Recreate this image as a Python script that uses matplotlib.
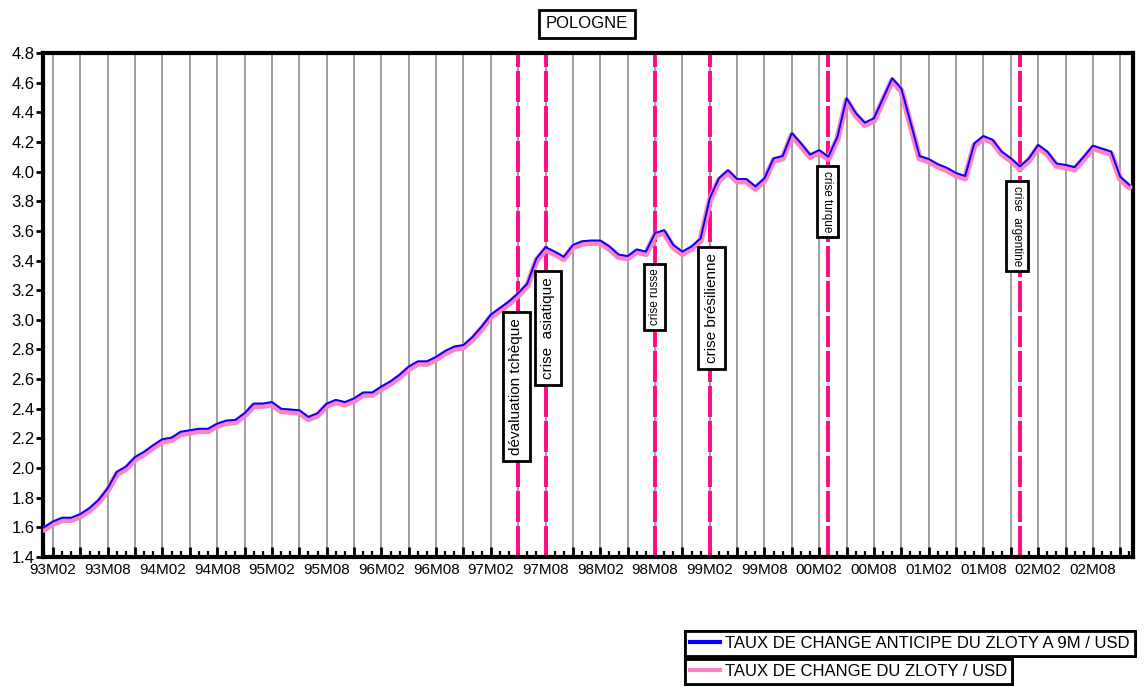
import matplotlib
matplotlib.use("Agg")
import matplotlib.pyplot as plt
from matplotlib.lines import Line2D
from matplotlib.ticker import MultipleLocator, FixedLocator

plt.rcParams['font.family'] = ['Liberation Sans', 'DejaVu Sans']

# Données mensuelles 93M01 .. 02M12
forward_9m = [
    1.60, 1.64, 1.665, 1.665, 1.69, 1.73, 1.785, 1.865, 1.975, 2.01,
    2.075, 2.11, 2.155, 2.195, 2.205, 2.245, 2.255, 2.265, 2.265, 2.30,
    2.32, 2.325, 2.37, 2.435, 2.435, 2.445, 2.40, 2.395, 2.39, 2.345,
    2.37, 2.435, 2.46, 2.445, 2.47, 2.51, 2.51, 2.55, 2.585, 2.63,
    2.685, 2.72, 2.72, 2.75, 2.79, 2.82, 2.83, 2.885, 2.955, 3.035,
    3.08, 3.125, 3.18, 3.245, 3.415, 3.49, 3.46, 3.425, 3.505, 3.53,
    3.535, 3.535, 3.495, 3.44, 3.43, 3.475, 3.46, 3.585, 3.605, 3.505,
    3.46, 3.495, 3.55, 3.82, 3.955, 4.01, 3.95, 3.95, 3.90, 3.955,
    4.09, 4.105, 4.26, 4.19, 4.115, 4.145, 4.10, 4.235, 4.495, 4.395,
    4.33, 4.36, 4.495, 4.63, 4.56, 4.335, 4.105, 4.085, 4.05, 4.025,
    3.99, 3.97, 4.19, 4.24, 4.215, 4.135, 4.09, 4.035, 4.09, 4.18,
    4.135, 4.055, 4.045, 4.03, 4.10, 4.175, 4.155, 4.135, 3.965, 3.91,
]
spot = [
    1.585, 1.625, 1.65, 1.65, 1.675, 1.715, 1.77, 1.85, 1.96, 1.995,
    2.06, 2.095, 2.14, 2.18, 2.19, 2.23, 2.24, 2.25, 2.25, 2.285,
    2.305, 2.31, 2.355, 2.42, 2.42, 2.43, 2.385, 2.38, 2.375, 2.33,
    2.355, 2.42, 2.445, 2.43, 2.455, 2.495, 2.495, 2.535, 2.57, 2.615,
    2.67, 2.705, 2.705, 2.735, 2.775, 2.805, 2.815, 2.87, 2.94, 3.02,
    3.065, 3.11, 3.165, 3.23, 3.40, 3.475, 3.445, 3.41, 3.49, 3.515,
    3.52, 3.52, 3.48, 3.425, 3.415, 3.46, 3.445, 3.57, 3.59, 3.49,
    3.445, 3.48, 3.535, 3.805, 3.94, 3.995, 3.935, 3.935, 3.885, 3.94,
    4.075, 4.09, 4.245, 4.175, 4.10, 4.13, 4.085, 4.22, 4.48, 4.38,
    4.315, 4.345, 4.48, 4.615, 4.545, 4.32, 4.09, 4.07, 4.035, 4.01,
    3.975, 3.955, 4.175, 4.225, 4.20, 4.12, 4.075, 4.02, 4.075, 4.165,
    4.12, 4.04, 4.03, 4.015, 4.085, 4.16, 4.14, 4.12, 3.95, 3.895,
]
months = list(range(len(spot)))

tick_labels = ["93M02", "93M08", "94M02", "94M08", "95M02", "95M08", "96M02",
               "96M08", "97M02", "97M08", "98M02", "98M08", "99M02", "99M08",
               "00M02", "00M08", "01M02", "01M08", "02M02", "02M08"]

# crises : indice du mois, libellé, position du cadre (mois, valeur), rotation, taille
events = [52, 55, 67, 73, 86, 107]
event_labels = ["dévaluation tchèque", "crise  asiatique", "crise russe",
                "crise brésilienne", "crise turque", "crise  argentine"]
label_pos = [(51.8, 2.55), (55.3, 2.945), (66.95, 3.155), (73.2, 3.08),
             (85.9, 3.80), (106.7, 3.635)]
label_rot = [90, 90, 90, 90, 270, 270]
label_size = [11, 11, 8.5, 11, 8.5, 8.5]

BLUE = "#0000FF"
PINK = "#FF80C4"
MAGENTA = "#FF0A84"

fig = plt.figure(figsize=(11.45, 6.87), dpi=100)
ax = fig.add_axes([43 / 1145, 1 - 557 / 687, 1090 / 1145, 504 / 687])

# grille verticale tous les 3 mois
for g in range(1, 120, 3):
    ax.axvline(g, color="#999999", lw=1.3, zorder=1)

for m in events:
    ax.axvline(m, color=MAGENTA, lw=2.8, ls=(0, (8, 1.0)), zorder=2)

ax.plot(months, spot, color=PINK, lw=4.5, solid_capstyle="round", zorder=3)
ax.plot(months, forward_9m, color=BLUE, lw=1.4, zorder=4)

for txt, (px, py), rot, fs in zip(event_labels, label_pos, label_rot, label_size):
    ax.text(px, py, txt, rotation=rot, ha="center", va="center", fontsize=fs,
            zorder=6, bbox=dict(boxstyle="square,pad=0.4", fc="white",
                                ec="black", lw=2))

ax.set_xlim(-0.1, 119.4)
ax.set_ylim(1.4, 4.8)
ax.yaxis.set_major_locator(MultipleLocator(0.2))
ax.yaxis.set_major_formatter(matplotlib.ticker.FormatStrFormatter("%.1f"))
ax.tick_params(axis="y", direction="out", length=5, width=2, labelsize=12, pad=1)

major = list(range(1, 120, 3))
ax.xaxis.set_major_locator(FixedLocator(major))
ax.set_xticklabels([tick_labels[k // 2] if k % 2 == 0 else "" for k in range(len(major))])
ax.xaxis.set_minor_locator(MultipleLocator(1))
ax.tick_params(axis="x", which="major", direction="in", length=7, width=2,
               labelsize=11, pad=4)
ax.tick_params(axis="x", which="minor", direction="in", length=4, width=1.6)

for s in ax.spines.values():
    s.set_linewidth(3)

fig.text(587 / 1145, 1 - 24 / 687, "POLOGNE", ha="center", va="center",
         fontsize=12, bbox=dict(boxstyle="square,pad=0.4", fc="white",
                                ec="black", lw=2))


def legend_box(color, label, top_px):
    leg = fig.legend(handles=[Line2D([], [], color=color, lw=3)], labels=[label],
                     loc="upper left", bbox_to_anchor=(685 / 1145, 1 - top_px / 687),
                     fancybox=False, edgecolor="black", framealpha=1,
                     borderpad=0.3, handlelength=1.8, handletextpad=0.3,
                     fontsize=12, borderaxespad=0)
    leg.get_frame().set_linewidth(2)
    fig.add_artist(leg)
    return leg


legend_box(BLUE, "TAUX DE CHANGE ANTICIPE DU ZLOTY A 9M / USD", 631)
legend_box(PINK, "TAUX DE CHANGE DU ZLOTY / USD", 659)

fig.savefig("out.png", dpi=100)
